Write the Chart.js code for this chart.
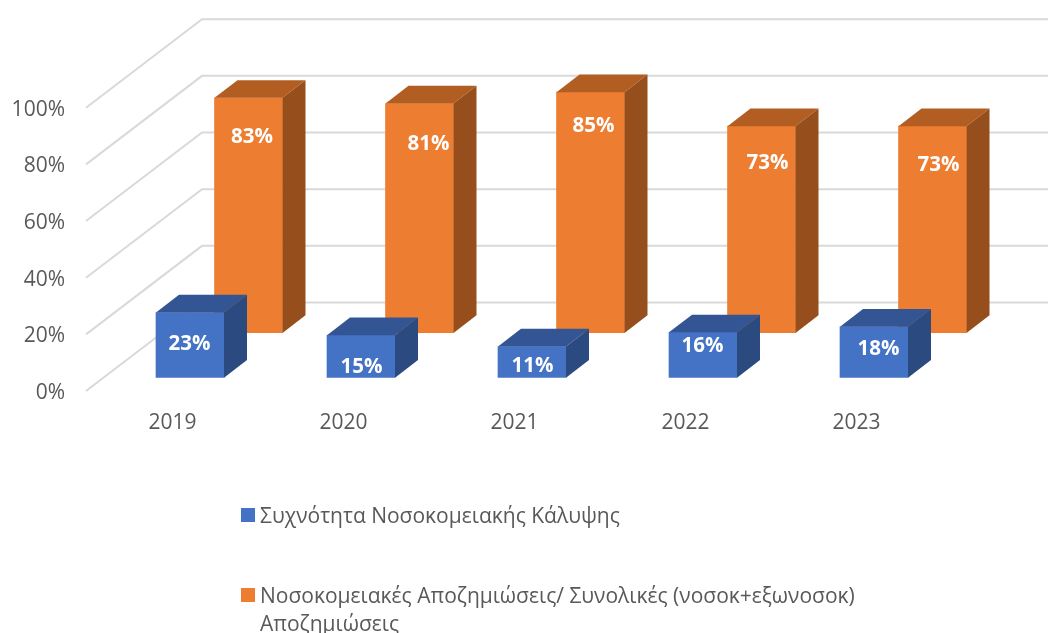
<!DOCTYPE html>
<html>
<head>
<meta charset="utf-8">
<style>html,body{margin:0;padding:0;background:#fff}canvas{display:block}</style>
<script src="https://cdn.jsdelivr.net/npm/chart.js@4/dist/chart.umd.min.js"></script>
</head>
<body>
<canvas id="c" width="1048" height="633"></canvas>
<script>
const categories = ['2019', '2020', '2021', '2022', '2023'];
const coverageValues = [23, 15, 11, 16, 18];
const reimbursementValues = [83, 81, 85, 73, 73];
const coverageName = 'Συχνότητα Νοσοκομειακής Κάλυψης';
const reimbursementNameLines = ['Νοσοκομειακές Αποζημιώσεις/ Συνολικές (νοσοκ+εξωνοσοκ)', 'Αποζημιώσεις'];
const yTicks = [0, 20, 40, 60, 80, 100];

const FONT = '"Open Sans", sans-serif';
const TEXT = '#595959';
const styles = [
  { shift: [17.5, -13.3], front: '#4472C4', top: '#335593', side: '#2A4A80',
    nudgeX: [-0.5, 0.5, 0.5, -0.5, 4.5], nudgeY: [32, 31.5, 19.5, 13.5, 22.5] },
  { shift: [76, -58], front: '#ED7D31', top: '#B25E22', side: '#964F1C',
    nudgeX: [3.5, 9, 3, 6, 6], nudgeY: [39.5, 41, 33.5, 36.5, 38.5] }
];
const depth = [23, -17.7];
const wall = [116, -88.5];

function poly(ctx, pts, color) {
  ctx.beginPath();
  pts.forEach((p, i) => i ? ctx.lineTo(p[0], p[1]) : ctx.moveTo(p[0], p[1]));
  ctx.closePath();
  ctx.fillStyle = color;
  ctx.fill();
}

const box3d = {
  id: 'box3d',
  beforeDatasetsDraw(chart) {
    const { ctx, scales: { y }, chartArea } = chart;
    ctx.save();
    ctx.strokeStyle = '#D9D9D9';
    ctx.lineWidth = 2;
    yTicks.forEach(v => {
      const py = y.getPixelForValue(v);
      ctx.beginPath();
      ctx.moveTo(chartArea.left - 1, py);
      ctx.lineTo(chartArea.left - 1 + wall[0], py + wall[1]);
      ctx.lineTo(chart.width, py + wall[1]);
      ctx.stroke();
    });
    ctx.restore();
  },
  beforeDatasetDraw(chart, args) {
    const s = styles[args.index];
    chart.ctx.save();
    chart.ctx.translate(s.shift[0], s.shift[1]);
  },
  afterDatasetDraw(chart, args) {
    const { ctx } = chart;
    const s = styles[args.index];
    args.meta.data.forEach(bar => {
      const l = bar.x - bar.width / 2, r = bar.x + bar.width / 2, t = bar.y, b = bar.base;
      const [dx, dy] = depth;
      poly(ctx, [[l, t], [l + dx, t + dy], [r + dx, t + dy], [r, t]], s.top);
      poly(ctx, [[r, t], [r + dx, t + dy], [r + dx, b + dy], [r, b]], s.side);
    });
    ctx.restore();
  },
  afterDraw(chart) {
    const { ctx } = chart;
    ctx.save();
    ctx.font = 'bold 20.5px ' + FONT;
    ctx.fillStyle = '#fff';
    ctx.textAlign = 'center';
    ctx.textBaseline = 'middle';
    chart.data.datasets.forEach((ds, di) => {
      const s = styles[di];
      chart.getDatasetMeta(di).data.forEach((bar, i) => {
        ctx.fillText(ds.data[i] + '%', bar.x + s.shift[0] + s.nudgeX[i], bar.y + s.shift[1] + s.nudgeY[i]);
      });
    });
    // legend
    ctx.font = '21px ' + FONT;
    ctx.fillStyle = TEXT;
    ctx.textAlign = 'left';
    ctx.fillText(coverageName, 260, 517);
    reimbursementNameLines.forEach((line, i) => ctx.fillText(line, 260, 597 + i * 28));
    ctx.fillStyle = styles[0].front;
    ctx.fillRect(241, 508, 14, 14);
    ctx.fillStyle = styles[1].front;
    ctx.fillRect(241, 588, 14, 14);
    ctx.restore();
  }
};

new Chart(document.getElementById('c'), {
  type: 'bar',
  data: {
    labels: categories,
    datasets: [
      { label: coverageName, data: coverageValues, backgroundColor: styles[0].front, grouped: false, barThickness: 68 },
      { label: reimbursementNameLines.join(' '), data: reimbursementValues, backgroundColor: styles[1].front, grouped: false, barThickness: 68 }
    ]
  },
  options: {
    responsive: false,
    animation: false,
    layout: { padding: { top: 107.7, right: 106, bottom: 182, left: 0 } },
    plugins: { legend: { display: false }, tooltip: { enabled: false } },
    scales: {
      x: {
        grid: { display: false },
        border: { display: false },
        ticks: { color: TEXT, font: { family: FONT, size: 21 }, padding: 11, maxRotation: 0 },
        afterFit(s) { s.height = 60; }
      },
      y: {
        min: 0,
        max: 100,
        grid: { display: false, drawTicks: false },
        border: { display: false },
        ticks: { stepSize: 20, color: TEXT, font: { family: FONT, size: 21 }, padding: 22, labelOffset: 2, callback: v => v + '%' },
        afterFit(s) { s.width = 87; }
      }
    }
  },
  plugins: [box3d]
});
</script>
</body>
</html>
